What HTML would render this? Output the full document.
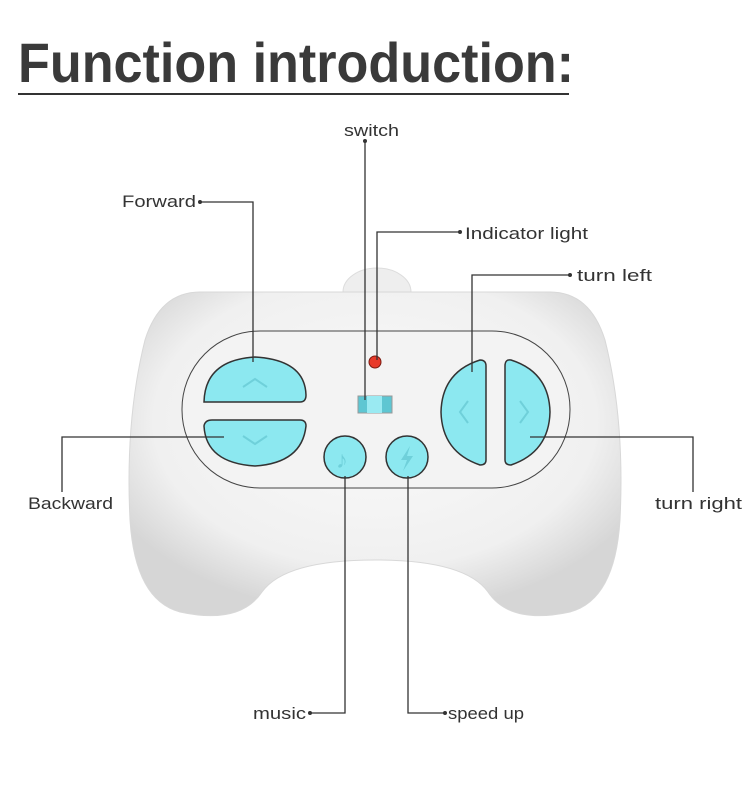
<!DOCTYPE html>
<html><head><meta charset="utf-8"><style>
html,body{margin:0;padding:0;background:#fff;}
svg{display:block;}
text{font-family:"Liberation Sans",sans-serif;fill:#333;}
</style></head><body>
<svg width="750" height="786" viewBox="0 0 750 786" xmlns="http://www.w3.org/2000/svg">
<defs>
<radialGradient id="body" cx="50%" cy="40%" r="60%">
<stop offset="0" stop-color="#fafafa"/><stop offset="0.75" stop-color="#f0f0f0"/><stop offset="1" stop-color="#d6d6d6"/>
</radialGradient>
</defs>
<text x="18" y="82" font-size="56" font-weight="bold" textLength="556" lengthAdjust="spacingAndGlyphs" style="fill:#3a3a3a">Function introduction:</text>
<rect x="18" y="93" width="551" height="2" fill="#333"/>
<ellipse cx="377" cy="292" rx="34" ry="24" fill="#eee" stroke="#ddd"/>
<path d="M200 292 Q160 292 145 340 Q125 420 130 520 Q135 600 180 612 Q240 625 262 592 Q285 560 375 560 Q465 560 488 592 Q510 625 570 612 Q615 600 620 520 Q625 420 605 340 Q590 292 550 292 Z" fill="url(#body)" stroke="#d8d8d8"/>
<rect x="182" y="331" width="388" height="157" rx="78" fill="#f3f3f3" stroke="#444" stroke-width="1"/>
<path d="M204 402 Q205 360 255 357 Q305 360 306 395 Q306 402 300 402 Z" fill="#8ce8f0" stroke="#333" stroke-width="1.5"/>
<path d="M204 426 Q205 420 212 420 L300 420 Q306 420 306 426 Q302 463 255 466 Q206 463 204 426 Z" fill="#8ce8f0" stroke="#333" stroke-width="1.5"/>
<path d="M243 387 L255 379 L267 387" fill="none" stroke="#6fd0da" stroke-width="2"/>
<path d="M243 436 L255 444 L267 436" fill="none" stroke="#6fd0da" stroke-width="2"/>
<path d="M486 366 Q486 360 480 360 Q442 372 441 412 Q442 452 480 465 Q486 465 486 460 Z" fill="#8ce8f0" stroke="#333" stroke-width="1.5"/>
<path d="M505 366 Q505 359 511 360 Q549 372 550 412 Q549 452 511 465 Q505 465 505 460 Z" fill="#8ce8f0" stroke="#333" stroke-width="1.5"/>
<path d="M468 401 L460 412 L468 423" fill="none" stroke="#6fd0da" stroke-width="2"/>
<path d="M520 401 L528 412 L520 423" fill="none" stroke="#6fd0da" stroke-width="2"/>
<circle cx="345" cy="457" r="21" fill="#8ce8f0" stroke="#333" stroke-width="1.5"/>
<circle cx="407" cy="457" r="21" fill="#8ce8f0" stroke="#333" stroke-width="1.5"/>
<text x="336" y="468" font-size="24" style="fill:#6fd0da">♪</text>
<path d="M410 446 L401 460 L407 460 L403 471 L413 456 L407 456 Z" fill="#6fd0da"/>
<circle cx="375" cy="362" r="6" fill="#e83a2a" stroke="#7a1a10"/>
<rect x="358" y="396" width="34" height="17" fill="#5ec6d2" stroke="#999"/>
<rect x="367" y="396" width="15" height="17" fill="#9aeaf2"/>
<g stroke="#333" stroke-width="1.3" fill="none">
<path d="M365 141 V400"/>
<path d="M460 232 H377 V360"/>
<path d="M200 202 H253 V362"/>
<path d="M224 437 H62 V492"/>
<path d="M570 275 H472 V372"/>
<path d="M530 437 H693 V492"/>
<path d="M345 476 V713 H310"/>
<path d="M408 476 V713 H445"/>
</g>
<g fill="#333">
<circle cx="365" cy="141" r="2"/><circle cx="460" cy="232" r="2"/><circle cx="200" cy="202" r="2"/>
<circle cx="570" cy="275" r="2"/><circle cx="310" cy="713" r="2"/><circle cx="445" cy="713" r="2"/>
</g>
<g font-size="17" lengthAdjust="spacingAndGlyphs">
<text x="344" y="136" textLength="55" lengthAdjust="spacingAndGlyphs">switch</text>
<text x="465" y="239" textLength="123" lengthAdjust="spacingAndGlyphs">Indicator light</text>
<text x="122" y="207" textLength="74" lengthAdjust="spacingAndGlyphs">Forward</text>
<text x="577" y="281" textLength="75" lengthAdjust="spacingAndGlyphs">turn left</text>
<text x="28" y="509" textLength="85" lengthAdjust="spacingAndGlyphs">Backward</text>
<text x="655" y="509" textLength="87" lengthAdjust="spacingAndGlyphs">turn right</text>
<text x="253" y="719" textLength="53" lengthAdjust="spacingAndGlyphs">music</text>
<text x="448" y="719" textLength="76" lengthAdjust="spacingAndGlyphs">speed up</text>
</g>
</svg>
</body></html>
